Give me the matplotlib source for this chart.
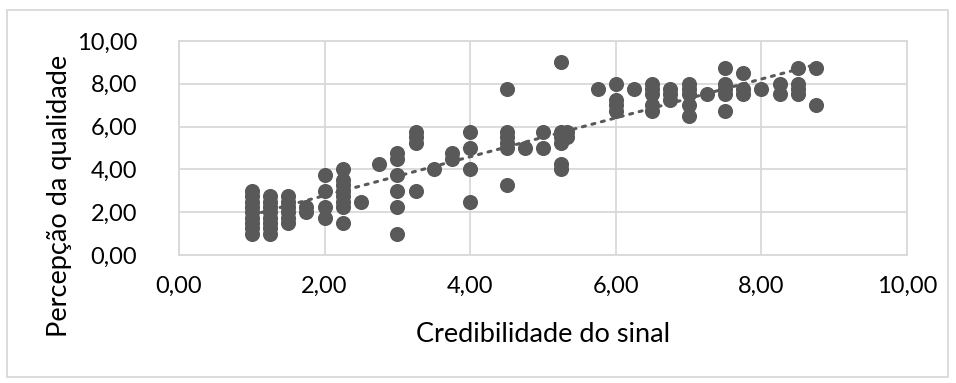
import matplotlib.pyplot as plt
from matplotlib.patches import Rectangle
import numpy as np

# data (x = credibilidade, y = percepcao)
credibilidade = [1.00] * 9 + [1.25] * 8 + [1.50] * 6 + [1.75] * 2 + [2.00] * 4 \
    + [2.25] * 8 + [2.50] + [2.75] + [3.00] * 6 + [3.25] * 4 + [3.50] + [3.75] * 2 \
    + [4.00] * 4 + [4.50] * 6 + [4.75] + [5.00] * 2 + [5.25] * 6 + [5.33] * 2 \
    + [5.75] + [6.00] * 4 + [6.25] + [6.50] * 5 + [6.75] * 3 + [7.00] * 5 + [7.25] \
    + [7.50] * 5 + [7.75] * 3 + [8.00] + [8.25] * 2 + [8.50] * 4 + [8.75] * 2

percepcao = [1, 1.25, 1.5, 1.75, 2, 2.25, 2.5, 2.75, 3,
             1, 1.25, 1.5, 1.75, 2, 2.25, 2.5, 2.75,
             1.5, 1.75, 2, 2.25, 2.5, 2.75,
             2, 2.25,
             1.75, 2.25, 3, 3.75,
             1.5, 2.25, 2.5, 2.75, 3, 3.25, 3.5, 4,
             2.5,
             4.25,
             1, 2.25, 3, 3.75, 4.5, 4.75,
             3, 5.25, 5.5, 5.75,
             4,
             4.5, 4.75,
             2.5, 4, 5, 5.75,
             3.25, 5, 5.25, 5.5, 5.75, 7.75,
             5,
             5, 5.75,
             4, 4.25, 5.25, 5.5, 5.75, 9,
             5.5, 5.75,
             7.75,
             6.75, 7, 7.25, 8,
             7.75,
             6.75, 7, 7.5, 7.75, 8,
             7.25, 7.5, 7.75,
             6.5, 7, 7.5, 7.75, 8,
             7.5,
             6.75, 7.5, 7.75, 8, 8.75,
             7.5, 7.75, 8.5,
             7.75,
             7.5, 8,
             7.5, 7.75, 8, 8.75,
             7, 8.75]

ticks = [0, 2, 4, 6, 8, 10]
tick_labels = ["0,00", "2,00", "4,00", "6,00", "8,00", "10,00"]

cor = "#595959"
grade = "#d9d9d9"
fonte = "Lato"

fig = plt.figure(figsize=(9.56, 3.83), dpi=100)
ax = fig.add_axes([179 / 956, 1 - 255 / 383, 728 / 956, 214 / 383])

x = np.array(credibilidade)
y = np.array(percepcao)
ax.scatter(x, y, s=118, color=cor, zorder=3, linewidths=0)

# linear trendline over the data range
a, b = np.polyfit(x, y, 1)
xs = np.array([x.min(), x.max()])
ax.plot(xs, a * xs + b, linestyle=(0, (1, 2.2)), color=cor, lw=2.2,
        dash_capstyle="round", zorder=4)

ax.set_xlim(0, 10)
ax.set_ylim(0, 10)
ax.set_xticks(ticks)
ax.set_yticks(ticks)
ax.set_xticklabels(tick_labels, fontsize=17, family=fonte, color="#000000")
ax.set_yticklabels(tick_labels, fontsize=17, family=fonte, color="#000000")
ax.tick_params(length=0)
ax.tick_params(axis="x", pad=15)
ax.tick_params(axis="y", pad=30)
ax.grid(True, color=grade, lw=1.3, zorder=0)
for s in ax.spines.values():
    s.set_color(grade)
    s.set_linewidth(1.3)

fig.text(543 / 956, 1 - 334 / 383, "Credibilidade do sinal", fontsize=19.5,
         family=fonte, ha="center", va="center")
fig.text(60 / 956, 1 - 196 / 383, "Percepção da qualidade", fontsize=19.5,
         family=fonte, ha="center", va="center", rotation=90)

# outer chart border
fig.patches.append(Rectangle((7 / 956, 6 / 383), 941 / 956, 367 / 383,
                             transform=fig.transFigure, fill=False,
                             edgecolor=grade, lw=1.3))

fig.savefig("out.png", dpi=100)
